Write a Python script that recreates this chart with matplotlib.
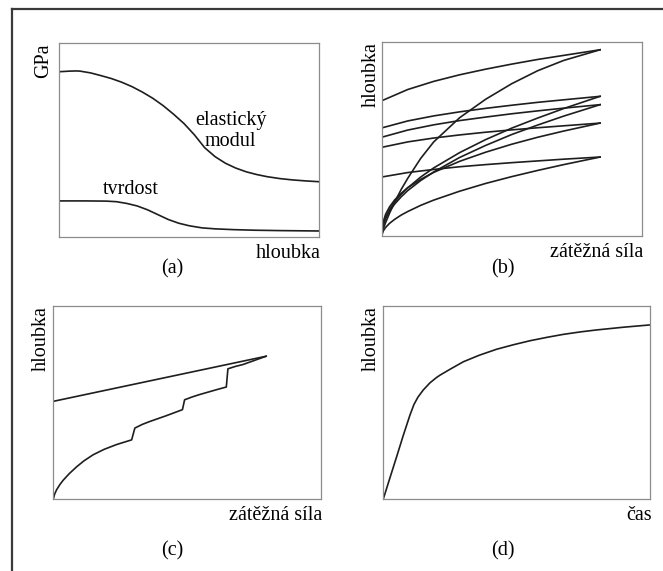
# Schematic nanoindentation curves, four panels (a)-(d)

import matplotlib.pyplot as plt
from matplotlib.lines import Line2D

plt.rcParams['font.family'] = ['Liberation Serif', 'DejaVu Serif']

# (a) modulus / hardness vs depth
a_x = [0, 0.04, 0.067, 0.08, 0.12, 0.16, 0.2, 0.24, 0.28, 0.32, 0.36, 0.4, 0.44, 0.48, 0.52,
       0.56, 0.6, 0.64, 0.68, 0.72, 0.76, 0.8, 0.85, 0.9, 0.95, 1.0]
a_modul = [0.852, 0.855, 0.856, 0.855, 0.846, 0.832, 0.817, 0.798, 0.775, 0.747, 0.715, 0.677,
           0.633, 0.585, 0.527, 0.46, 0.414, 0.38, 0.355, 0.336, 0.322, 0.311, 0.301, 0.294, 0.289, 0.285]
a_tx = [0, 0.1, 0.18, 0.22, 0.26, 0.3, 0.34, 0.38, 0.42, 0.46, 0.5, 0.55, 0.6, 0.67, 0.75, 0.85, 1.0]
a_tvrdost = [0.186, 0.186, 0.185, 0.182, 0.173, 0.160, 0.140, 0.115, 0.090, 0.071, 0.058, 0.047,
             0.042, 0.038, 0.035, 0.033, 0.031]

# (b) loading / unloading cycles
b_load_x = [0, 0.005, 0.015, 0.03, 0.05, 0.075, 0.1, 0.15, 0.2, 0.3, 0.4, 0.5, 0.6, 0.7, 0.84]
b_load = [
    [0, 0.033, 0.069, 0.117, 0.175, 0.24, 0.297, 0.40, 0.485, 0.61, 0.705, 0.785, 0.852, 0.905, 0.96],
    [0, 0.056, 0.096, 0.136, 0.176, 0.215, 0.248, 0.304, 0.351, 0.430, 0.497, 0.556, 0.608, 0.657, 0.720],
    [0, 0.052, 0.090, 0.128, 0.165, 0.202, 0.234, 0.286, 0.330, 0.405, 0.467, 0.523, 0.572, 0.618, 0.677],
    [0, 0.070, 0.112, 0.150, 0.186, 0.220, 0.249, 0.292, 0.328, 0.385, 0.432, 0.473, 0.509, 0.541, 0.582],
    [0, 0.024, 0.044, 0.065, 0.086, 0.108, 0.126, 0.158, 0.185, 0.231, 0.271, 0.306, 0.338, 0.368, 0.407],
]
b_unload_x = [0, 0.1, 0.2, 0.3, 0.4, 0.5, 0.6, 0.7, 0.84]
b_unload = [
    [0.697, 0.755, 0.797, 0.831, 0.860, 0.886, 0.910, 0.931, 0.960],
    [0.557, 0.593, 0.619, 0.640, 0.658, 0.674, 0.689, 0.702, 0.720],
    [0.509, 0.546, 0.573, 0.595, 0.613, 0.630, 0.645, 0.659, 0.677],
    [0.457, 0.485, 0.505, 0.521, 0.535, 0.547, 0.558, 0.568, 0.582],
    [0.304, 0.327, 0.343, 0.357, 0.368, 0.378, 0.387, 0.396, 0.407],
]

# (c) pop-in steps
c_load_x = [0, 0.005, 0.0127, 0.025, 0.0373, 0.06, 0.0873, 0.115, 0.149, 0.19, 0.237, 0.293,
            0.305, 0.333, 0.361, 0.423, 0.483, 0.491, 0.52, 0.547, 0.610, 0.647, 0.653, 0.68, 0.709, 0.796]
c_load = [0, 0.027, 0.05, 0.077, 0.099, 0.133, 0.168, 0.199, 0.230, 0.258, 0.283, 0.307,
          0.368, 0.387, 0.402, 0.432, 0.463, 0.514, 0.529, 0.541, 0.566, 0.580, 0.674, 0.686, 0.696, 0.739]
c_unload_x = [0, 0.796]
c_unload = [0.506, 0.739]

# (d) creep
d_x = [0, 0.025, 0.05, 0.075, 0.10, 0.115, 0.13, 0.15, 0.175, 0.2, 0.213, 0.25, 0.3, 0.36,
       0.425, 0.49, 0.55, 0.615, 0.675, 0.74, 0.8, 0.9, 1.0]
d_y = [0, 0.11, 0.219, 0.33, 0.435, 0.49, 0.528, 0.565, 0.602, 0.63, 0.642, 0.672, 0.711, 0.745,
       0.776, 0.80, 0.820, 0.838, 0.853, 0.866, 0.876, 0.89, 0.902]

W, H = 663, 571
fig = plt.figure(figsize=(W / 100, H / 100), dpi=100)

# outer frame, only top and left edges visible
fig.add_artist(Line2D([12 / W, 1.0], [1 - 9 / H, 1 - 9 / H], color='#3a3a3a', lw=1.6))
fig.add_artist(Line2D([12 / W, 12 / W], [0, 1 - 9 / H], color='#3a3a3a', lw=1.6))

def panel(l, t, r, b):
    ax = fig.add_axes([l / W, 1 - b / H, (r - l) / W, (b - t) / H])
    ax.set_xlim(0, 1)
    ax.set_ylim(0, 1)
    ax.set_xticks([])
    ax.set_yticks([])
    for s in ax.spines.values():
        s.set_color('#8c8c8c')
        s.set_linewidth(0.9)
    return ax

FS = 14.5
lc = '#1e1e1e'
lw = 1.2

ax_a = panel(59.3, 43, 319, 237)
ax_b = panel(381.7, 42, 641.7, 236)
ax_c = panel(53.3, 305.7, 320.7, 499.3)
ax_d = panel(383.3, 306, 650, 499)

ax_a.plot(a_x, a_modul, color=lc, lw=lw)
ax_a.plot(a_tx, a_tvrdost, color=lc, lw=lw)
ax_a.text(0.66, 0.546, 'elastický\nmodul', ha='center', va='center', fontsize=FS, linespacing=1.1)
ax_a.text(0.276, 0.247, 'tvrdost', ha='center', va='center', fontsize=FS)

for ys in b_load:
    ax_b.plot(b_load_x, ys, color=lc, lw=lw)
for ys in b_unload:
    ax_b.plot(b_unload_x, ys, color=lc, lw=lw)

ax_c.plot(c_load_x, c_load, color=lc, lw=lw)
ax_c.plot(c_unload_x, c_unload, color=lc, lw=lw)

ax_d.plot(d_x, d_y, color=lc, lw=lw)

labels = [(ax_a, 'GPa', 'hloubka', -6), (ax_b, 'hloubka', 'zátěžná síla', -1),
          (ax_c, 'hloubka', 'zátěžná síla', -3), (ax_d, 'hloubka', 'čas', -3)]
for ax, yl, xl, off in labels:
    ax.annotate(yl, xy=(0, 1), xycoords='axes fraction', xytext=(off, 0),
                textcoords='offset pixels', rotation=90, ha='right', va='top', fontsize=FS)
    ax.annotate(xl, xy=(1, 0), xycoords='axes fraction', xytext=(2, -7),
                textcoords='offset pixels', ha='right', va='top', fontsize=FS)

for x, y, s in [(172, 269, '(a)'), (503, 269, '(b)'), (172, 551, '(c)'), (503, 551, '(d)')]:
    fig.text(x / W, 1 - y / H, s, ha='center', va='center', fontsize=FS)

fig.savefig('out.png', dpi=100)
